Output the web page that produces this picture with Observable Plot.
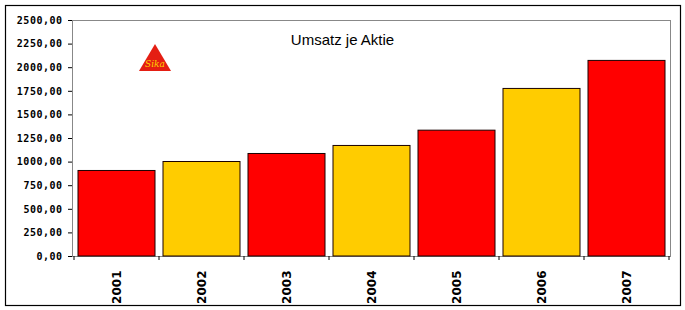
<!DOCTYPE html>
<html>
<head>
<meta charset="utf-8">
<script src="https://cdn.jsdelivr.net/npm/d3@7"></script>
<script src="https://cdn.jsdelivr.net/npm/@observablehq/plot@0.6"></script>
<style>
  html, body { margin: 0; padding: 0; background: #fff; }
  #chart { width: 685px; height: 310px; }
</style>
</head>
<body>
<div id="chart"></div>
<script>
const years = ["2001", "2002", "2003", "2004", "2005", "2006", "2007"];
const umsatz = [906, 1001, 1086, 1171, 1333, 1775, 2072];
const yTicks = [0, 250, 500, 750, 1000, 1250, 1500, 1750, 2000, 2250, 2500];
const title = "Umsatz je Aktie";
const logoText = "Sika";

const data = years.map((y, i) => ({year: y, value: umsatz[i], idx: i}));
const RED = "#FF0000", YELLOW = "#FFCC00";
const fmt = v => v.toFixed(2).replace(".", ",");

const plot = Plot.plot({
  width: 685,
  height: 310,
  marginLeft: 72,
  marginTop: 20,
  marginRight: 15,
  marginBottom: 54,
  style: {background: "#fff", overflow: "visible"},
  x: {domain: years, paddingInner: 0.1, paddingOuter: 0.05, label: null},
  y: {domain: [0, 2500], label: null},
  marks: [
    Plot.frame({stroke: "#888", strokeWidth: 1}),
    Plot.barY(data, {
      x: "year", y: "value",
      fill: d => d.idx % 2 === 0 ? RED : YELLOW,
      stroke: "#1a0000", strokeWidth: 1
    }),
    Plot.axisY({
      ticks: yTicks, tickFormat: fmt, tickSize: 4, tickPadding: 6,
      line: true, stroke: "#000",
      fontFamily: "DejaVu Sans Mono", fontWeight: "bold", fontSize: 10,
      fill: "#000", label: null
    }),
    Plot.axisX({
      tickSize: 0, tickRotate: -90, tickPadding: 14, line: true, stroke: "#000",
      fontFamily: "DejaVu Sans", fontWeight: "bold", fontSize: 12, fill: "#000",
      label: null
    }),
    Plot.text([title], {
      frameAnchor: "top", text: d => d, dy: 14, dx: -29,
      fontFamily: "Liberation Sans", fontSize: 15, fill: "#000"
    })
  ]
});

document.getElementById("chart").appendChild(plot);

// letter spacing on y tick labels, like the reference's wide bitmap font
d3.select(plot).selectAll("[aria-label='y-axis tick label'] text").attr("letter-spacing", 0.5);

// Post-render decorations using the library's scales
const svg = d3.select(plot);
const xs = plot.scale("x");
const ys = plot.scale("y");
const step = xs.step, bw = xs.bandwidth;
const y0 = ys.apply(0);
const bounds = years.map(y => xs.apply(y) - (step - bw) / 2);
bounds.push(bounds[bounds.length - 1] + step);
svg.append("g").selectAll("line").data(bounds).join("line")
  .attr("x1", d => d).attr("x2", d => d)
  .attr("y1", y0).attr("y2", y0 + 4)
  .attr("stroke", "#000");

// outer border
svg.append("rect")
  .attr("x", 5.5).attr("y", 5.5).attr("width", 675).attr("height", 300)
  .attr("fill", "none").attr("stroke", "#000").attr("stroke-width", 1.2);

// Sika logo
const logo = svg.append("g").attr("transform", "translate(155,44)");
logo.append("polygon").attr("points", "0,0 16,27 -16,27").attr("fill", "#E41E13");
logo.append("text").text(logoText)
  .attr("x", 0).attr("y", 23).attr("text-anchor", "middle")
  .attr("font-family", "DejaVu Serif").attr("font-style", "italic")
  .attr("font-size", 9).attr("fill", "#FFD200");
</script>
</body>
</html>
